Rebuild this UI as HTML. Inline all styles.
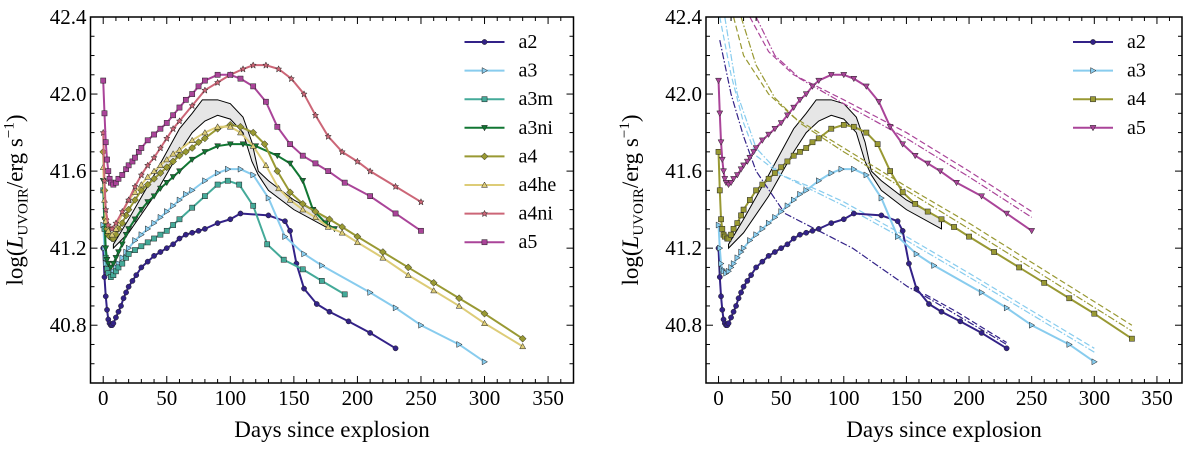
<!DOCTYPE html>
<html><head><meta charset="utf-8"><style>
html,body{margin:0;padding:0;background:#fff;}
svg{display:block;}
text{font-family:"Liberation Serif",serif;}
</style></head><body>
<svg id="chart" width="1200" height="449" viewBox="0 0 1200 449" xmlns="http://www.w3.org/2000/svg"></svg>
<script>
const xTicks=[0,50,100,150,200,250,300,350];
const yTicks=[40.8,41.2,41.6,42.0,42.4];
const leftModels=["a2","a3","a3m","a3ni","a4","a4he","a4ni","a5"];
const rightModels=["a2","a3","a4","a5"];
const a2Days=[0,1,2,3,4,5,6,7,8,10,12,14,16,18,20,23,26,30,35,40,45,50,55,60,65,70,75,80,90,100,108,130,143,147,152,158,168,178,193,210,230];
const a2Vals=[41.2,41.05,40.95,40.88,40.83,40.81,40.8,40.8,40.81,40.84,40.87,40.9,40.94,40.97,41.0,41.03,41.06,41.1,41.13,41.16,41.18,41.2,41.22,41.25,41.27,41.28,41.29,41.3,41.33,41.35,41.38,41.37,41.34,41.29,41.12,40.99,40.91,40.87,40.82,40.76,40.68];
const a3Days=[0,1,2,3,4,6,8,10,12,15,18,20,25,30,35,40,45,50,55,60,65,70,80,90,98,108,118,130,143,158,172,210,230,250,280,300];
const a3Vals=[41.32,41.2,41.12,41.09,41.08,41.07,41.08,41.1,41.12,41.15,41.18,41.2,41.24,41.27,41.3,41.33,41.36,41.39,41.42,41.45,41.48,41.5,41.55,41.59,41.61,41.61,41.58,41.46,41.26,41.17,41.11,40.97,40.89,40.8,40.7,40.61];
const a3mDays=[0,1,2,3,4,6,8,10,12,15,18,20,25,30,35,40,45,50,55,60,70,80,90,98,107,118,129,142,157,172,190];
const a3mVals=[41.5,41.3,41.15,41.09,41.07,41.05,41.06,41.08,41.1,41.12,41.15,41.17,41.19,41.21,41.23,41.25,41.27,41.29,41.32,41.35,41.41,41.47,41.53,41.55,41.53,41.42,41.22,41.14,41.09,41.03,40.96];
const a3niDays=[0,1,2,3,4,6,8,10,12,15,18,20,25,30,35,40,45,50,55,60,70,80,90,100,110,120,137,147,157,165,175,182];
const a3niVals=[41.55,41.35,41.2,41.14,41.12,41.1,41.12,41.15,41.18,41.22,41.27,41.3,41.35,41.4,41.44,41.47,41.51,41.54,41.57,41.6,41.66,41.7,41.73,41.74,41.74,41.73,41.68,41.64,41.55,41.4,41.33,41.3];
const a4Days=[0,1,2,3,4,5,7,8,10,12,15,18,20,25,30,35,40,45,50,55,60,65,70,75,80,90,100,108,118,127,137,147,157,167,178,188,200,220,240,260,280,300,330];
const a4Vals=[41.7,41.5,41.35,41.3,41.27,41.26,41.25,41.25,41.27,41.3,41.33,41.37,41.4,41.45,41.5,41.53,41.56,41.59,41.62,41.65,41.68,41.7,41.72,41.75,41.77,41.82,41.84,41.83,41.8,41.74,41.6,41.49,41.43,41.39,41.35,41.31,41.26,41.18,41.1,41.02,40.94,40.86,40.73];
const a4heDays=[0,1,2,4,7,10,15,20,25,30,35,40,45,50,55,60,70,80,90,100,108,118,128,138,147,157,167,177,188,200,220,240,260,280,300,330];
const a4heVals=[41.62,41.45,41.34,41.29,41.27,41.3,41.38,41.45,41.49,41.53,41.57,41.6,41.63,41.66,41.69,41.71,41.76,41.8,41.83,41.83,41.8,41.73,41.63,41.51,41.45,41.4,41.36,41.31,41.28,41.23,41.15,41.06,40.98,40.9,40.81,40.69];
const a4niDays=[0,1,2,4,7,10,15,20,25,30,35,40,45,50,55,60,70,80,90,100,110,118,128,138,148,158,167,177,188,200,210,230,250];
const a4niVals=[41.8,41.55,41.4,41.32,41.3,41.33,41.39,41.45,41.52,41.58,41.63,41.67,41.72,41.77,41.82,41.86,41.94,42.02,42.06,42.1,42.13,42.15,42.15,42.13,42.08,42.0,41.89,41.78,41.7,41.65,41.6,41.52,41.44];
const a5Days=[0,1,2,3,4,5,6,8,10,12,15,18,20,23,25,28,30,35,40,45,50,55,60,65,70,75,80,90,100,108,118,128,137,147,157,167,177,190,210,230,250];
const a5Vals=[42.07,41.9,41.75,41.66,41.6,41.56,41.54,41.53,41.54,41.56,41.58,41.61,41.63,41.65,41.67,41.7,41.72,41.76,41.79,41.82,41.85,41.89,41.93,41.97,42.0,42.04,42.07,42.1,42.1,42.08,42.04,41.96,41.83,41.74,41.68,41.64,41.6,41.54,41.47,41.38,41.29];
const bandUpDays=[8,20,40,60,70,78,90,100,110,117,122,130,150,178];
const bandUpVals=[41.22,41.35,41.58,41.82,41.9,41.97,41.97,41.95,41.88,41.75,41.6,41.55,41.45,41.35];
const bandLoDays=[8,20,40,60,70,80,90,100,110,117,122,130,150,178];
const bandLoVals=[41.2,41.28,41.47,41.7,41.8,41.86,41.89,41.87,41.8,41.65,41.58,41.5,41.4,41.3];
const a2DashDays=[165,190,230];
const a2DashVals=[40.96,40.87,40.71];
const a2DotDays=[1,10,20,30,53,80,107,151,165,230];
const a2DotVals=[42.28,42.0,41.78,41.6,41.38,41.29,41.2,41.0,40.95,40.7];
const a3DashDays=[1,10,20,30,50,80,100,150,200,300];
const a3DashVals=[42.4,42.1,41.85,41.68,41.58,41.5,41.44,41.26,41.07,40.68];
const a3DotDays=[5,15,30,50,100,150,200,300];
const a3DotVals=[42.4,42.0,41.72,41.58,41.42,41.24,41.05,40.66];
const a4DashDays=[12,20,40,60,100,150,200,330];
const a4DashVals=[42.4,42.2,42.0,41.88,41.72,41.52,41.33,40.8];
const a4DotDays=[18,30,45,65,100,150,200,330];
const a4DotVals=[42.4,42.15,41.98,41.85,41.7,41.5,41.3,40.77];
const a5DashDays=[25,40,60,100,150,200,250];
const a5DashVals=[42.4,42.22,42.1,41.97,41.8,41.6,41.39];
const a5DotDays=[30,45,65,100,150,200,250];
const a5DotVals=[42.4,42.2,42.08,41.95,41.77,41.57,41.36];

const colors={a2:"#332288",a3:"#88ccee",a3m:"#44aa99",a3ni:"#117733",a4:"#999933",a4he:"#ddcc77",a4ni:"#cc6677",a5:"#aa4499"};
const series={a2:[a2Days,a2Vals],a3:[a3Days,a3Vals],a3m:[a3mDays,a3mVals],a3ni:[a3niDays,a3niVals],a4:[a4Days,a4Vals],a4he:[a4heDays,a4heVals],a4ni:[a4niDays,a4niVals],a5:[a5Days,a5Vals]};
const dashSeries={a2:[a2DashDays,a2DashVals],a3:[a3DashDays,a3DashVals],a4:[a4DashDays,a4DashVals],a5:[a5DashDays,a5DashVals]};
const dotSeries={a2:[a2DotDays,a2DotVals],a3:[a3DotDays,a3DotVals],a4:[a4DotDays,a4DotVals],a5:[a5DotDays,a5DotVals]};
const markersL={a2:"circle",a3:"tri-right",a3m:"square",a3ni:"tri-down",a4:"diamond",a4he:"tri-up",a4ni:"star",a5:"square"};
const markersR={a2:"circle",a3:"tri-right",a4:"square",a5:"tri-down"};

const NS="http://www.w3.org/2000/svg";
const svg=document.getElementById("chart");
function el(tag,attrs,parent){const e=document.createElementNS(NS,tag);for(const k in attrs)e.setAttribute(k,attrs[k]);(parent||svg).appendChild(e);return e;}

function marker(g,type,x,y,color){
  let m;const r=3;
  if(type==="circle")m=el("circle",{cx:x,cy:y,r:2.6,fill:color,stroke:"#222","stroke-width":0.5},g);
  else if(type==="square")m=el("rect",{x:x-2.6,y:y-2.6,width:5.2,height:5.2,fill:color,stroke:"#222","stroke-width":0.5},g);
  else if(type==="diamond")m=el("polygon",{points:`${x},${y-3.5} ${x+3.5},${y} ${x},${y+3.5} ${x-3.5},${y}`,fill:color,stroke:"#222","stroke-width":0.5},g);
  else if(type==="tri-up")m=el("polygon",{points:`${x},${y-r} ${x+r},${y+r*0.8} ${x-r},${y+r*0.8}`,fill:color,stroke:"#222","stroke-width":0.5},g);
  else if(type==="tri-down")m=el("polygon",{points:`${x},${y+r} ${x+r},${y-r*0.8} ${x-r},${y-r*0.8}`,fill:color,stroke:"#222","stroke-width":0.5},g);
  else if(type==="tri-right")m=el("polygon",{points:`${x+r},${y} ${x-r*0.8},${y-r} ${x-r*0.8},${y+r}`,fill:color,stroke:"#222","stroke-width":0.5},g);
  else m=el("polygon",{points:`${x},${y-3.2} ${x+1},${y-1} ${x+3},${y-1} ${x+1.5},${y+0.6} ${x+2},${y+3} ${x},${y+1.6} ${x-2},${y+3} ${x-1.5},${y+0.6} ${x-3},${y-1} ${x-1},${y-1}`,fill:color,stroke:"#222","stroke-width":0.5},g);
  
  
}

function panel(name,left,right,models,markers,withDash){
  const top=17,bottom=383,x0=-10,x1=370,y0=40.5,y1=42.4;
  const sx=d=>left+(d-x0)/(x1-x0)*(right-left);
  const sy=v=>bottom-(v-y0)/(y1-y0)*(bottom-top);
  const g=el("g",{});
  
  
  const cp="clip-"+name;
  const defs=el("defs",{},g);const c=el("clipPath",{id:cp},defs);el("rect",{x:left,y:top,width:right-left,height:bottom-top},c);
  const pg=el("g",{"clip-path":`url(#${cp})`},g);
  let pts=bandUpDays.map((d,i)=>`${sx(d)},${sy(bandUpVals[i])}`);
  for(let i=bandLoDays.length-1;i>=0;i--)pts.push(`${sx(bandLoDays[i])},${sy(bandLoVals[i])}`);
  const band=el("polygon",{points:pts.join(" "),fill:"#e6e6e6",stroke:"#000","stroke-width":1},pg);
  
  
  if(withDash){
    for(const m of models){
      const [d,v]=dashSeries[m];
      const l1=el("polyline",{points:d.map((x,i)=>`${sx(x)},${sy(v[i])}`).join(" "),fill:"none",stroke:colors[m],"stroke-width":1.2,"stroke-dasharray":"6,3"},pg);
      
      
      const [d2,v2]=dotSeries[m];
      const l2=el("polyline",{points:d2.map((x,i)=>`${sx(x)},${sy(v2[i])}`).join(" "),fill:"none",stroke:colors[m],"stroke-width":1.2,"stroke-dasharray":"7,2,1.5,2"},pg);
      
      
    }
  }
  for(const m of models){const [d,v]=series[m];
    const sg=el("g",{},pg);
    
    
    el("polyline",{points:d.map((x,i)=>`${sx(x)},${sy(v[i])}`).join(" "),fill:"none",stroke:colors[m],"stroke-width":2,"stroke-linejoin":"round"},sg);
    d.forEach((x,i)=>marker(sg,markers[m],sx(x),sy(v[i]),colors[m]));
  }
  el("rect",{x:left,y:top,width:right-left,height:bottom-top,fill:"none",stroke:"#000","stroke-width":1.5},g);
  for(let d=0;d<=360;d+=10){const x=sx(d);const maj=d%50===0;const L=maj?7:4;
    el("line",{x1:x,y1:bottom,x2:x,y2:bottom-L,stroke:"#000","stroke-width":1},g);
    el("line",{x1:x,y1:top,x2:x,y2:top+L,stroke:"#000","stroke-width":1},g);}
  for(let k=0;k<=19;k++){const v=40.5+k*0.1;const y=sy(v);const r=Math.round(v*10)%4;const L=r===0?7:4;
    el("line",{x1:left,y1:y,x2:left+L,y2:y,stroke:"#000","stroke-width":1},g);
    el("line",{x1:right,y1:y,x2:right-L,y2:y,stroke:"#000","stroke-width":1},g);}
  xTicks.forEach(d=>{const t=el("text",{x:sx(d),y:405,"text-anchor":"middle","font-size":21,"font-family":"Liberation Serif, serif"},g);t.textContent=d;
    });
  yTicks.forEach(v=>{const t=el("text",{x:left-4,y:sy(v)+7,"text-anchor":"end","font-size":21,"font-family":"Liberation Serif, serif"},g);t.textContent=v.toFixed(1);
    });
  const xl=el("text",{x:(left+right)/2,y:437,"text-anchor":"middle","font-size":23,"font-family":"Liberation Serif, serif"},g);xl.textContent="Days since explosion";
  
  const yl=el("text",{x:0,y:0,"text-anchor":"middle","font-size":23,"font-family":"Liberation Serif, serif",transform:`translate(${left-68},${(top+bottom)/2}) rotate(-90)`},g);
  yl.innerHTML='log(<tspan font-style="italic">L</tspan><tspan font-size="15" dy="5">UVOIR</tspan><tspan dy="-5">/erg s</tspan><tspan font-size="15" dy="-9">−1</tspan><tspan dy="9">)</tspan>';
  
  const lx=right-109;
  models.forEach((m,i)=>{const y=42+i*28.6;
    const lg=el("g",{},g);
    
    
    el("line",{x1:lx,y1:y,x2:lx+40,y2:y,stroke:colors[m],"stroke-width":2},lg);
    marker(lg,markers[m],lx+20,y,colors[m]);
    const t=el("text",{x:lx+54,y:y+6,"font-size":20,"font-family":"Liberation Serif, serif"},lg);t.textContent=m;});
}
panel("left-panel",90.5,573.5,leftModels,markersL,false);
panel("right-panel",706,1182,rightModels,markersR,true);
</script>
</body></html>
